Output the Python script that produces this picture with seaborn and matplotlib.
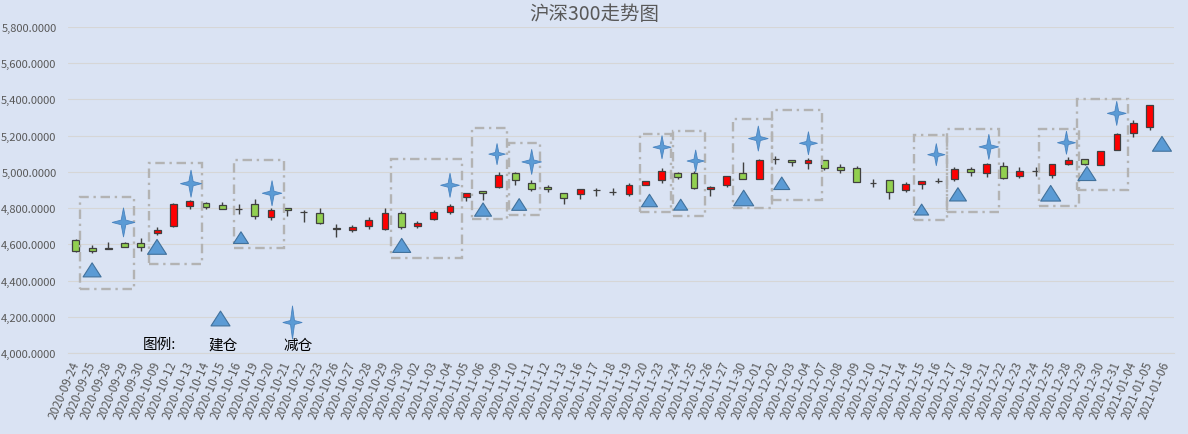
import numpy as np
import pandas as pd
import matplotlib
matplotlib.use("Agg")
import matplotlib.pyplot as plt
import seaborn as sns
from matplotlib.path import Path
from matplotlib.patches import Rectangle

# ---------------- data ----------------
dates = ["2020-09-24", "2020-09-25", "2020-09-28", "2020-09-29", "2020-09-30",
         "2020-10-09", "2020-10-12", "2020-10-13", "2020-10-14", "2020-10-15",
         "2020-10-16", "2020-10-19", "2020-10-20", "2020-10-21", "2020-10-22",
         "2020-10-23", "2020-10-26", "2020-10-27", "2020-10-28", "2020-10-29",
         "2020-10-30", "2020-11-02", "2020-11-03", "2020-11-04", "2020-11-05",
         "2020-11-06", "2020-11-09", "2020-11-10", "2020-11-11", "2020-11-12",
         "2020-11-13", "2020-11-16", "2020-11-17", "2020-11-18", "2020-11-19",
         "2020-11-20", "2020-11-23", "2020-11-24", "2020-11-25", "2020-11-26",
         "2020-11-27", "2020-11-30", "2020-12-01", "2020-12-02", "2020-12-03",
         "2020-12-04", "2020-12-07", "2020-12-08", "2020-12-09", "2020-12-10",
         "2020-12-11", "2020-12-14", "2020-12-15", "2020-12-16", "2020-12-17",
         "2020-12-18", "2020-12-21", "2020-12-22", "2020-12-23", "2020-12-24",
         "2020-12-25", "2020-12-28", "2020-12-29", "2020-12-30", "2020-12-31",
         "2021-01-04", "2021-01-05", "2021-01-06"]

opens = [4625, 4581, 4577, 4607, 4607, 4660, 4699, 4809, 4830, 4818,
         4794, 4822, 4750, 4801, 4780, 4773, 4688, 4678, 4700, 4683,
         4773, 4700, 4738, 4777, 4862, 4895, 4917, 4996, 4941, 4917,
         4884, 4878, 4898, 4887, 4877, 4930, 4954, 4994, 4994, 4904,
         4928, 4996, 4959, 5069, 5066, 5050, 5066, 5028, 5022, 4940,
         4956, 4899, 4934, 4951, 4959, 5017, 4994, 5033, 4978, 5005,
         4985, 5044, 5072, 5039, 5121, 5215, 5248, np.nan]
highs = [4628, 4598, 4613, 4614, 4634, 4694, 4826, 4843, 4834, 4835,
         4820, 4850, 4801, 4802, 4792, 4801, 4713, 4707, 4751, 4801,
         4783, 4731, 4792, 4825, 4886, 4896, 5000, 4997, 4956, 4930,
         4885, 4907, 4913, 4912, 4939, 4949, 5024, 5000, 5006, 4923,
         4980, 5055, 5072, 5088, 5067, 5074, 5067, 5042, 5033, 4961,
         4957, 4945, 4950, 4967, 5026, 5029, 5048, 5055, 5028, 5026,
         5045, 5084, 5073, 5117, 5217, 5284, 5370, np.nan]
lows = [4560, 4552, 4574, 4585, 4563, 4650, 4697, 4793, 4793, 4793,
        4767, 4741, 4737, 4757, 4722, 4714, 4639, 4667, 4683, 4678,
        4683, 4692, 4733, 4766, 4840, 4845, 4912, 4926, 4895, 4888,
        4823, 4849, 4866, 4871, 4867, 4925, 4939, 4960, 4908, 4866,
        4917, 4958, 4958, 5042, 5033, 5015, 5013, 4993, 4943, 4917,
        4851, 4890, 4908, 4941, 4948, 4978, 4971, 4958, 4967, 4978,
        4969, 5037, 5040, 5038, 5120, 5193, 5231, np.nan]
closes = [4563, 4565, 4576, 4588, 4583, 4681, 4824, 4839, 4806, 4795,
          4793, 4755, 4792, 4788, 4779, 4716, 4687, 4696, 4737, 4773,
          4694, 4718, 4781, 4814, 4884, 4884, 4985, 4954, 4904, 4906,
          4856, 4906, 4899, 4888, 4928, 4947, 5006, 4971, 4910, 4917,
          4978, 4959, 5066, 5070, 5053, 5066, 5020, 5009, 4945, 4939,
          4890, 4934, 4947, 4952, 5017, 4998, 5046, 4965, 5006, 5006,
          5044, 5068, 5042, 5116, 5209, 5270, 5369, np.nan]

# buy (建仓) markers
buy_x = [1.0, 4.99, 10.15, 20.03, 25.03, 27.25, 35.26, 37.18, 41.05, 43.39,
         51.99, 54.22, 59.92, 62.15, 66.76]
buy_y = [4459, 4586, 4637, 4594, 4792, 4820, 4842, 4819, 4856, 4937,
         4792, 4876, 4882, 4991, 5155]
buy_px = [18, 19, 15, 18, 17, 15, 16, 14, 20, 16, 14, 17, 20, 18, 19]

# sell (减仓) markers
sell_x = [2.93, 7.08, 12.06, 23.0, 25.89, 28.02, 36.03, 38.1, 41.95, 45.03,
          52.89, 56.12, 60.89, 63.98]
sell_y = [4721, 4935, 4882, 4926, 5098, 5055, 5136, 5060, 5184, 5158,
          5095, 5138, 5161, 5323]
sell_px = [29, 27, 25, 24, 21, 25, 23, 22, 25, 23, 22, 25, 23, 24]

# trade boxes: x0, x1, y0, y1
box_x0 = [0.24, 4.52, 9.72, 19.39, 24.35, 26.64, 34.68, 36.68, 40.39, 42.81,
          51.5, 53.56, 59.2, 61.55]
box_x1 = [3.56, 7.78, 12.78, 23.75, 26.5, 28.53, 36.6, 38.67, 42.77, 45.84,
          53.53, 56.74, 61.66, 64.65]
box_y0 = [4354, 4492, 4580, 4523, 4740, 4762, 4781, 4759, 4800, 4847,
          4737, 4781, 4810, 4900]
box_y1 = [4864, 5048, 5064, 5069, 5243, 5162, 5210, 5228, 5293, 5344,
          5206, 5238, 5238, 5400]

# ---------------- style ----------------
sns.set_theme(style="white")
plt.rcParams["font.family"] = ["Noto Sans CJK SC", "DejaVu Sans"]
plt.rcParams["axes.unicode_minus"] = False

BG = "#dae3f3"
TXT = "#595959"
GRID = "#d6d6d6"
EDGE = "#404040"

fig = plt.figure(figsize=(11.88, 4.35), dpi=100, facecolor=BG)
ax = fig.add_axes([67.7 / 1188, 1 - 354 / 435, (1174 - 67.7) / 1188, (354 - 28) / 435])
ax.set_facecolor(BG)

df = pd.DataFrame({"date": dates, "open": opens, "high": highs,
                   "low": lows, "close": closes})
df["pos"] = np.arange(len(df))
valid = df.dropna()
up = valid["close"] >= valid["open"]

# wicks
ax.vlines(valid["pos"], valid["low"], valid["high"], color=EDGE, lw=1.0, zorder=2)
# bodies
bottoms = np.minimum(valid["open"], valid["close"])
heights = np.maximum((valid["close"] - valid["open"]).abs(), 0.5)
ax.bar(valid["pos"], heights, bottom=bottoms, width=0.42,
       color=np.where(up, "#ff0000", "#92d050"), edgecolor=EDGE,
       linewidth=0.9, zorder=3)

# boxes
for x0, x1, y0, y1 in zip(box_x0, box_x1, box_y0, box_y1):
    ax.add_patch(Rectangle((x0, y0), x1 - x0, y1 - y0, fill=False,
                           edgecolor="#b3b3b3", lw=1.7,
                           linestyle=(0, (4, 2, 1, 2)), zorder=4))

# marker shapes
tri = Path([(0, 0.78), (1, -0.78), (-1, -0.78), (0, 0.78)],
           [Path.MOVETO, Path.LINETO, Path.LINETO, Path.CLOSEPOLY])
def star_path(w, c=0.16):
    v = [(0, 1), (c, c), (w, 0), (c, -c), (0, -1), (-c, -c), (-w, 0), (-c, c), (0, 1)]
    codes = [Path.MOVETO] + [Path.LINETO] * 7 + [Path.CLOSEPOLY]
    return Path(v, codes)
star = star_path(0.78)
star_leg = star_path(0.58, 0.12)

BLUE = "#5b9bd5"
BLUE_E = "#41719c"

sns.scatterplot(x=buy_x, y=buy_y, marker=tri, s=[(p * 0.72) ** 2 for p in buy_px],
                color=BLUE, edgecolor=BLUE_E, linewidth=0.8, ax=ax, zorder=6, legend=False)
sns.scatterplot(x=sell_x, y=sell_y, marker=star, s=[(p * 0.72) ** 2 for p in sell_px],
                color=BLUE, edgecolor="#4a84c0", linewidth=0.6, ax=ax, zorder=6, legend=False)

# legend (drawn in the plot)
sns.scatterplot(x=[8.89], y=[4196], marker=tri, s=[(19 * 0.72) ** 2],
                color=BLUE, edgecolor=BLUE_E, linewidth=0.8, ax=ax, zorder=6, legend=False)
sns.scatterplot(x=[13.29], y=[4171], marker=star_leg, s=[(33 * 0.72) ** 2],
                color=BLUE, edgecolor="#4a84c0", linewidth=0.6, ax=ax, zorder=6, legend=False)
ax.text(5.12, 4050, "图例:", ha="center", va="center", fontsize=10.5, color="black")
ax.text(9.05, 4044, "建仓", ha="center", va="center", fontsize=10.5, color="black")
ax.text(13.66, 4044, "减仓", ha="center", va="center", fontsize=10.5, color="black")

# axes
ax.set_xlim(-0.5, len(dates) - 0.5)
ax.set_ylim(4000, 5800)
yt = np.arange(4000, 5801, 200)
ax.set_yticks(yt)
ax.set_yticklabels([f"{v:,.4f}" for v in yt], fontsize=8, color=TXT)
ax.set_xticks(df["pos"])
ax.set_xticklabels(dates, rotation=67, ha="right", va="center",
                   rotation_mode="anchor", fontsize=8.5, color=TXT)
ax.set_xticks(np.arange(-0.5, len(dates), 1), minor=True)
ax.tick_params(axis="x", which="major", length=0, pad=6)
ax.tick_params(axis="x", which="minor", length=4, width=0.8, color=GRID, direction="out")
ax.tick_params(axis="y", length=0, pad=8)
ax.yaxis.grid(True, color=GRID, lw=0.8)
ax.xaxis.grid(False)
ax.set_axisbelow(True)
for s in ["top", "right", "left"]:
    ax.spines[s].set_visible(False)
ax.spines["bottom"].set_color(GRID)
ax.spines["bottom"].set_linewidth(0.8)
ax.set_xlabel("")
ax.set_ylabel("")

fig.text(594 / 1188, 1 - 15 / 435, "沪深300走势图", ha="center", va="center",
         fontsize=14, color=TXT)

fig.savefig("out.png", dpi=100, facecolor=BG)
